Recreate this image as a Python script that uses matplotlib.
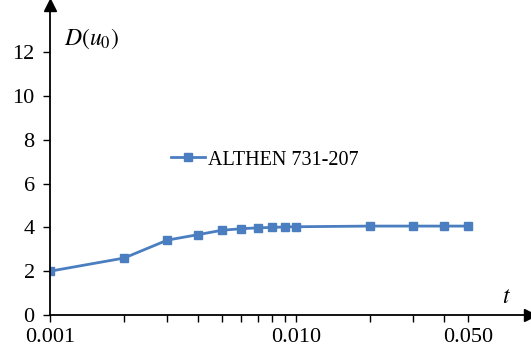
import numpy as np
import matplotlib.pyplot as plt

plt.rcParams['font.family'] = ['Liberation Serif', 'DejaVu Serif']
plt.rcParams['mathtext.fontset'] = 'stix'

# Data
t = [0.001, 0.002, 0.003, 0.004, 0.005, 0.006, 0.007, 0.008, 0.009, 0.010,
     0.020, 0.030, 0.040, 0.050]
D = [2.0, 2.6, 3.42, 3.67, 3.87, 3.94, 3.98, 4.0, 4.02, 4.03,
     4.06, 4.06, 4.06, 4.06]
yticks = [0, 2, 4, 6, 8, 10, 12]
xlabels = {0.001: '0.001', 0.010: '0.010', 0.050: '0.050'}

color = '#4a7ec0'

fig = plt.figure(figsize=(5.31, 3.52), dpi=100)
ax = fig.add_axes([50/531, 37/352, 480/531, 310/352])

ax.plot(t, D, '-', color=color, lw=2, marker='s', ms=5.5,
        label='ALTHEN 731-207')

ax.set_xscale('log')
ax.set_xlim(0.001, 0.001 * 10**(480/246))
ax.set_ylim(0, 310/21.9)

ax.set_xticks(t)
ax.set_xticklabels([xlabels.get(v, '') for v in t])
ax.xaxis.set_minor_locator(plt.NullLocator())
ax.set_yticks(yticks)
ax.tick_params(labelsize=16, length=5, width=1, colors='black')
ax.tick_params(axis='x', pad=4)
ax.tick_params(axis='y', pad=6)

for s in ['top', 'right']:
    ax.spines[s].set_visible(False)
for s in ['left', 'bottom']:
    ax.spines[s].set_linewidth(1.3)

# axis arrows
ax.plot(1, 0, '>k', ms=8, transform=ax.transAxes, clip_on=False)
ax.plot(0, 1, '^k', ms=8, transform=ax.transAxes, clip_on=False)

ax.text(0.03, 0.89, r'$D(u_0)$', transform=ax.transAxes, fontsize=17,
        ha='left', va='center')
ax.text(0.95, 0.055, r'$t$', transform=ax.transAxes, fontsize=17,
        ha='center', va='center')

ax.legend(loc='center left', bbox_to_anchor=(0.215, 0.50), frameon=False,
          fontsize=14.5, handlelength=1.65, handletextpad=0.15)

fig.savefig('out.png', dpi=100)
